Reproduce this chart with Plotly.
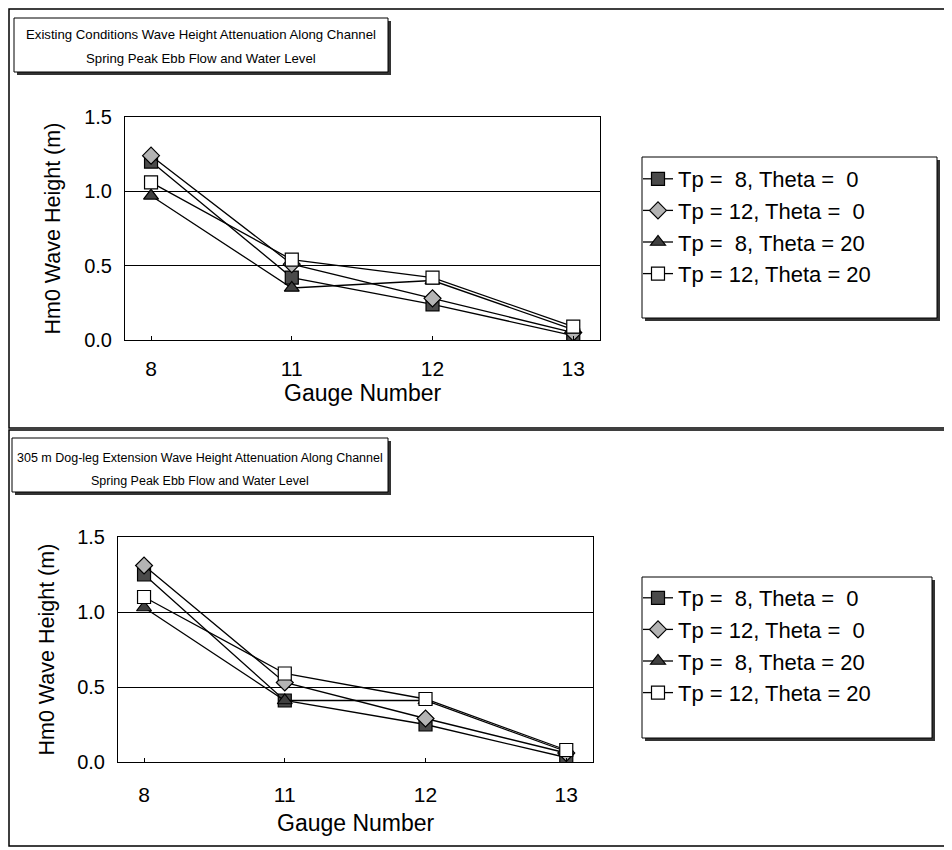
import plotly.graph_objects as go

W, H = 952, 850
OFF = 8  # page offset of the figure inside the browser body

gauges = ["8", "11", "12", "13"]
series_names = ["Tp =  8, Theta =  0", "Tp = 12, Theta =  0",
                "Tp =  8, Theta = 20", "Tp = 12, Theta = 20"]

# Existing conditions (top panel)
top_tp8_th0 = [1.20, 0.42, 0.24, 0.03]
top_tp12_th0 = [1.24, 0.51, 0.28, 0.05]
top_tp8_th20 = [0.97, 0.35, 0.40, 0.07]
top_tp12_th20 = [1.06, 0.54, 0.42, 0.09]

# 305 m dog-leg extension (bottom panel)
bot_tp8_th0 = [1.25, 0.41, 0.25, 0.03]
bot_tp12_th0 = [1.31, 0.53, 0.29, 0.06]
bot_tp8_th20 = [1.03, 0.41, 0.41, 0.07]
bot_tp12_th20 = [1.10, 0.59, 0.42, 0.08]

top_title = ["Existing Conditions Wave Height Attenuation Along Channel",
             "Spring Peak Ebb Flow and Water Level"]
bot_title = ["305 m Dog-leg Extension Wave Height Attenuation Along Channel",
             "Spring Peak Ebb Flow and Water Level"]
y_title = "Hm0 Wave Height (m)"
x_title = "Gauge Number"

styles = [
    dict(symbol="square", color="#4a4a4a"),
    dict(symbol="diamond", color="#b4b4b4"),
    dict(symbol="triangle-up", color="#404040"),
    dict(symbol="square", color="white"),
]

FONT = "Liberation Sans, Arial, sans-serif"


def px_x(p):
    return (p - OFF) / W


def px_y(p):
    return 1 - (p - OFF) / H


fig = go.Figure()

panels = [
    dict(data=[top_tp8_th0, top_tp12_th0, top_tp8_th20, top_tp12_th20],
         xa="x", ya="y", legend="legend",
         plot=(125, 117, 600, 340), title=top_title, tsize=13.2,
         tbox=(14, 18, 388, 72), tlines=(35, 58),
         lbox=(642, 157, 937, 318), ytx=52, xt_y=393, leg_top=158),
    dict(data=[bot_tp8_th0, bot_tp12_th0, bot_tp8_th20, bot_tp12_th20],
         xa="x2", ya="y2", legend="legend2",
         plot=(118, 537, 593, 762), title=bot_title, tsize=12.5,
         tbox=(12, 438, 388, 492), tlines=(458, 481),
         lbox=(642, 577, 932, 738), ytx=46, xt_y=823, leg_top=577),
]

shapes = []
annotations = []

# outer panel frames
shapes.append(dict(type="rect", xref="paper", yref="paper",
                   x0=px_x(OFF + 1), x1=px_x(970), y0=px_y(428), y1=px_y(OFF + 1),
                   line=dict(color="black", width=1.5)))
shapes.append(dict(type="rect", xref="paper", yref="paper",
                   x0=px_x(OFF + 1), x1=px_x(970), y0=px_y(846), y1=px_y(430),
                   line=dict(color="black", width=1.5)))

for i, pn in enumerate(panels):
    for j, vals in enumerate(pn["data"]):
        st = styles[j]
        fig.add_trace(go.Scatter(
            x=list(range(len(gauges))), y=vals, name=series_names[j],
            mode="lines+markers", xaxis=pn["xa"], yaxis=pn["ya"],
            legend=pn["legend"],
            line=dict(color="black", width=1.3),
            marker=dict(symbol=st["symbol"], color=st["color"], size=13,
                        line=dict(color="black", width=1.2)),
        ))
    # title box with shadow
    x0, y0, x1, y1 = pn["tbox"]
    shapes.append(dict(type="rect", xref="paper", yref="paper",
                       x0=px_x(x0 + 3), x1=px_x(x1 + 3), y0=px_y(y1 + 3), y1=px_y(y0 + 3),
                       fillcolor="#333333", line=dict(width=0), layer="below"))
    shapes.append(dict(type="rect", xref="paper", yref="paper",
                       x0=px_x(x0), x1=px_x(x1), y0=px_y(y1), y1=px_y(y0),
                       fillcolor="white", line=dict(color="black", width=1), layer="below"))
    for k, ty in enumerate(pn["tlines"]):
        annotations.append(dict(text=pn["title"][k], xref="paper", yref="paper",
                                x=px_x((x0 + x1) / 2), y=px_y(ty), showarrow=False,
                                xanchor="center", yanchor="middle",
                                font=dict(family=FONT, size=pn["tsize"], color="black")))
    # legend box with shadow
    lx0, ly0, lx1, ly1 = pn["lbox"]
    shapes.append(dict(type="rect", xref="paper", yref="paper",
                       x0=px_x(lx0 + 3), x1=px_x(lx1 + 3), y0=px_y(ly1 + 3), y1=px_y(ly0 + 3),
                       fillcolor="#333333", line=dict(width=0), layer="below"))
    shapes.append(dict(type="rect", xref="paper", yref="paper",
                       x0=px_x(lx0), x1=px_x(lx1), y0=px_y(ly1), y1=px_y(ly0),
                       fillcolor="white", line=dict(color="black", width=1), layer="below"))
    # axis titles
    px0, py0, px1, py1 = pn["plot"]
    annotations.append(dict(text=y_title, xref="paper", yref="paper",
                            x=px_x(pn["ytx"]), y=px_y((py0 + py1) / 2), textangle=-90,
                            showarrow=False, xanchor="center", yanchor="middle",
                            font=dict(family=FONT, size=21.5, color="black")))
    annotations.append(dict(text=x_title, xref="paper", yref="paper",
                            x=px_x((px0 + px1) / 2), y=px_y(pn["xt_y"]),
                            showarrow=False, xanchor="center", yanchor="middle",
                            font=dict(family=FONT, size=23, color="black")))

    ax_x = dict(domain=[px_x(px0), px_x(px1)], range=[-0.185, 3.19],
                tickmode="array", tickvals=list(range(len(gauges))), ticktext=gauges,
                ticks="inside", ticklen=4, tickcolor="black",
                showgrid=False, zeroline=False, showline=True, linecolor="black",
                linewidth=1, mirror=True,
                tickfont=dict(family=FONT, size=21, color="black"),
                anchor=pn["ya"], ticklabelstandoff=10 if i == 0 else 14)
    ax_y = dict(domain=[px_y(py1), px_y(py0)], range=[0, 1.5],
                tickmode="array", tickvals=[0, 0.5, 1.0, 1.5],
                ticktext=["0.0", "0.5", "1.0", "1.5"],
                showgrid=True, gridcolor="black", gridwidth=1, zeroline=False,
                showline=True, linecolor="black", linewidth=1, mirror=True,
                ticks="", tickfont=dict(family=FONT, size=20, color="black"),
                anchor=pn["xa"], ticklabelstandoff=8)
    if i == 0:
        fig.update_layout(xaxis=ax_x, yaxis=ax_y,
                          legend=dict(x=px_x(638), y=px_y(pn["leg_top"])))
    else:
        fig.update_layout(xaxis2=ax_x, yaxis2=ax_y,
                          legend2=dict(x=px_x(638), y=px_y(pn["leg_top"])))

leg_common = dict(bgcolor="rgba(0,0,0,0)", borderwidth=0,
                  font=dict(family=FONT, size=22, color="black"),
                  xanchor="left", yanchor="top", itemwidth=30, tracegroupgap=0)
fig.update_layout(
    width=W, height=H, margin=dict(l=0, r=0, t=0, b=0, autoexpand=False),
    paper_bgcolor="white", plot_bgcolor="white",
    showlegend=True,
    legend=leg_common, legend2=leg_common,
    shapes=shapes, annotations=annotations,
)

fig.write_html("out.html")
